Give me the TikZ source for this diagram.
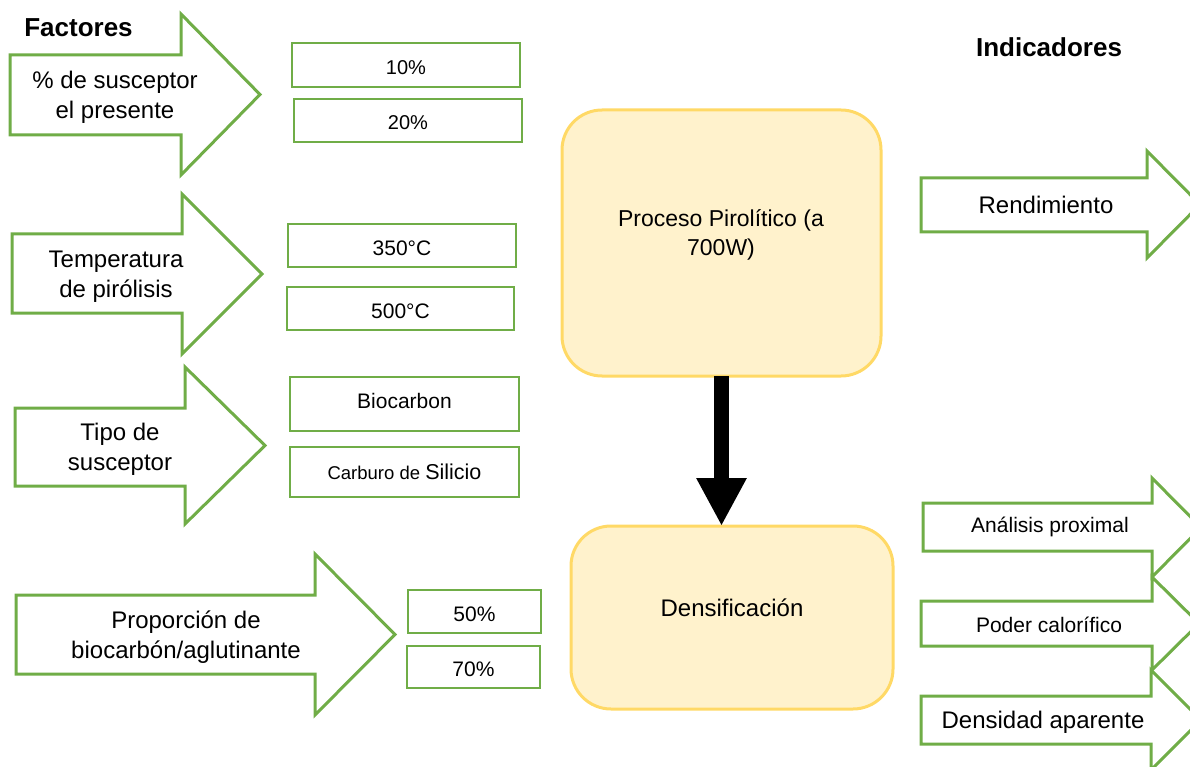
\documentclass[tikz,border=0pt]{standalone}
\usepackage{fontspec}
\setmainfont{Liberation Sans}
\usetikzlibrary{arrows.meta}
\definecolor{grn}{RGB}{112,173,71}
\definecolor{ylwfill}{RGB}{255,242,204}
\definecolor{ylwline}{RGB}{255,217,102}
\newcommand\fsz[2]{\fontsize{#1}{#2}\selectfont}
\newcommand\garw[7]{\draw[garrow] (#1,#2) -- (#4,#2) -- (#4,#5) -- (#7,{(#5+#6)/2}) -- (#4,#6) -- (#4,#3) -- (#1,#3) -- cycle;}
\begin{document}
\begin{tikzpicture}[x=1pt,y=-1pt,
  garrow/.style={draw=grn, line width=3pt, fill=white, line join=miter},
  optbox/.style={draw=grn, line width=2.5pt, fill=white, inner sep=0pt, outer sep=0pt},
  lowtext/.style={text height=19pt, text depth=0pt},
  procbox/.style={draw=ylwline, fill=ylwfill, line width=3pt, rounded corners=40pt, inner sep=0pt, outer sep=0pt},
  txt/.style={inner sep=0pt, align=center, text=black},
  head/.style={inner sep=0pt, font=\bfseries\fsz{26}{30}}]
\useasboundingbox (0,0) rectangle (1190,767);
\clip (0,0) rectangle (1190,767);

% headers
\node[head] (factores) at (78.5,28) {Factores};
\node[head] (indicadores) at (1049,47) {Indicadores};

% factor arrows
\garw{10}{55}{135}{181}{14}{175}{260}
\garw{12}{234}{313}{182}{194}{354}{262}
\garw{15}{408}{486}{185}{367}{524}{265}
\garw{16}{595}{674}{315}{554}{715}{395}
\node[txt, font=\fsz{24}{30}] (f1) at (115,97) {\% de susceptor\\el presente};
\node[txt, font=\fsz{24}{30}] (f2) at (116,277) {Temperatura\\de pirólisis};
\node[txt, font=\fsz{24}{30}] (f3) at (120,449) {Tipo de\\susceptor};
\node[txt, font=\fsz{24}{30}] (f4) at (186,637) {Proporción de\\biocarbón/aglutinante};

% option boxes
\node[optbox, lowtext, minimum width=228pt, minimum height=44pt, font=\fsz{20}{24}] (b10) at (406,65) {10\%};
\node[optbox, lowtext, minimum width=228pt, minimum height=43pt, font=\fsz{20}{24}] (b20) at (408,120.5) {20\%};
\node[optbox, lowtext, minimum width=228pt, minimum height=43pt, font=\fsz{21}{24}] (b350) at (402,245.5) {350°C};
\node[optbox, lowtext, minimum width=227pt, minimum height=43pt, font=\fsz{21}{24}] (b500) at (400.5,308.5) {500°C};
\node[optbox, text height=14pt, text depth=6pt, minimum width=229pt, minimum height=54pt, font=\fsz{21}{24}] (bbio) at (404.5,404) {Biocarbon};
\node[optbox, minimum width=229pt, minimum height=50pt] (bcar) at (404.5,472) {\fsz{18.5}{22}Carburo de \fsz{21.5}{24}Silicio};
\node[optbox, lowtext, minimum width=133pt, minimum height=43pt, font=\fsz{21}{24}] (b50) at (474.5,611.5) {50\%};
\node[optbox, lowtext, minimum width=133pt, minimum height=42pt, font=\fsz{21}{24}] (b70) at (473.5,667) {70\%};

% process boxes
\node[procbox, minimum width=319pt, minimum height=266pt] (proc) at (721.5,243) {};
\node[txt, font=\fsz{23}{29}] (proctxt) at (721,234.5) {Proceso Pirolítico (a\\700W)};
\node[procbox, minimum width=322pt, minimum height=183pt] (dens) at (732,617.5) {};
\node[txt, font=\fsz{24}{30}] (denstxt) at (732,607.5) {Densificación};

\draw[line width=15pt, -{Triangle[width=47pt,length=48pt]}] (proc.south) -- (proc.south |- dens.north);

% indicator arrows
\garw{921}{178}{232}{1147}{151}{258}{1200}
\garw{923}{503}{551}{1152}{478}{577}{1201}
\garw{921}{601}{646}{1152}{577}{670}{1199}
\garw{921}{696}{744}{1151}{670}{770}{1201}
\node[txt, font=\fsz{24}{30}] (i1) at (1046,204.5) {Rendimiento};
\node[txt, font=\fsz{21}{26}] (i2) at (1050,527) {Análisis proximal};
\node[txt, font=\fsz{21}{26}] (i3) at (1049,625) {Poder calorífico};
\node[txt, font=\fsz{24}{30}] (i4) at (1043,722) {Densidad aparente};
\end{tikzpicture}
\end{document}
